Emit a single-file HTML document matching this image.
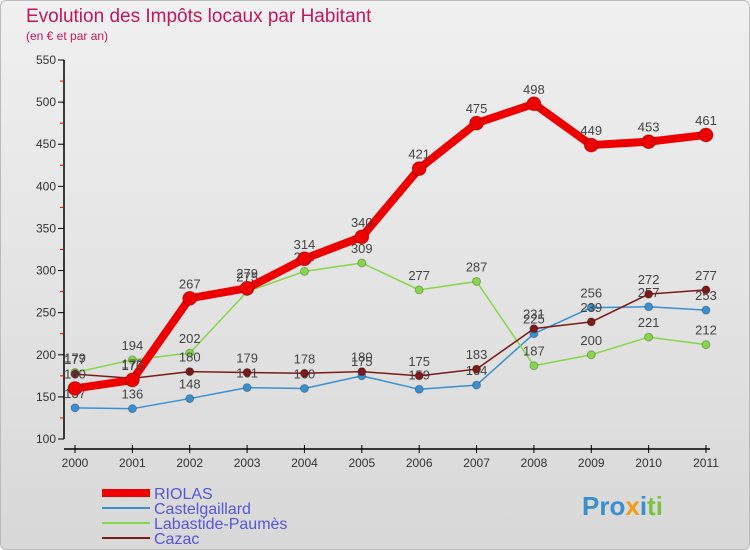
<!DOCTYPE html>
<html><head><meta charset="utf-8"><style>
body{margin:0;width:750px;height:550px;overflow:hidden;font-family:"Liberation Sans",sans-serif;}
#wrap{position:absolute;left:0;top:0;width:748px;height:548px;border:1px solid #bbb;border-radius:6px;background:linear-gradient(#f0f0f0,#d8d8d8);}
</style></head><body>
<div id="wrap">
<svg width="750" height="550" id="chart" style="position:absolute;left:-1px;top:-1px">
<text x="26" y="22" font-size="19" fill="#c2185b" font-weight="normal">Evolution des Impôts locaux par Habitant</text>
<text x="26" y="40" font-size="12" fill="#c2185b">(en € et par an)</text>
<g id="axes"></g><g id="series"></g>
<g id="legend"></g>
<text x="582" y="515" font-size="26" font-weight="bold"><tspan fill="#3a8fd0">Pro</tspan><tspan fill="#f39c12">x</tspan><tspan fill="#3a8fd0">i</tspan><tspan fill="#7cc242">ti</tspan></text>
</svg></div>
<script>
const years=[2000,2001,2002,2003,2004,2005,2006,2007,2008,2009,2010,2011];
const yTicks=[100,150,200,250,300,350,400,450,500,550];
const riolas=[160,170,267,279,314,340,421,475,498,449,453,461];
const castel=[137,136,148,161,160,175,159,164,225,256,257,253];
const labastide=[179,194,202,275,299,309,277,287,187,200,221,212];
const cazac=[177,172,180,179,178,180,175,183,231,239,272,277];
const NS="http://www.w3.org/2000/svg";
const xS=i=>75+i*(706-75)/11;
const yS=v=>439-(v-100)*(379/450);
function mk(tag,attrs,parent,txt){const e=document.createElementNS(NS,tag);for(const k in attrs)e.setAttribute(k,attrs[k]);if(txt!==undefined)e.textContent=txt;parent.appendChild(e);return e;}
const ax=document.getElementById('axes');
const yl=mk('line',{x1:64,y1:60,x2:64,y2:439,stroke:'#000','stroke-width':1.5},ax);


const xl=mk('line',{x1:64,y1:449,x2:710,y2:449,stroke:'#000','stroke-width':1.5},ax);


yTicks.forEach((t,i)=>{const y=yS(t);mk('line',{x1:58,y1:y,x2:64,y2:y,stroke:'#000'},ax);
if(i<yTicks.length-1)mk('line',{x1:60,y1:yS(t+25),x2:64,y2:yS(t+25),stroke:'#e00'},ax);
const tx=mk('text',{x:56,y:y+4,'font-size':12,'text-anchor':'end',fill:'#333'},ax,t);

});
years.forEach((yr,i)=>{const x=xS(i);mk('line',{x1:x,y1:445,x2:x,y2:453,stroke:'#000'},ax);
const tx=mk('text',{x:x,y:467,'font-size':12,'text-anchor':'middle',fill:'#333'},ax,yr);

});
const sg=document.getElementById('series');
function draw(vals,color,w,r,name){const g=mk('g',{},sg);


mk('polyline',{points:vals.map((v,i)=>xS(i)+','+yS(v)).join(' '),fill:'none',stroke:color,'stroke-width':w,'stroke-linejoin':'round'},g);
vals.forEach((v,i)=>{const c=mk('circle',{cx:xS(i),cy:yS(v),r:r,fill:color,stroke:'rgba(0,0,0,0.25)'},g);


const t=mk('text',{x:xS(i),y:yS(v)-10,'font-size':13,'text-anchor':'middle',fill:'#444'},g,v);

});}
draw(castel,'#3a8fd0',1.5,4,'castelgaillard');
draw(labastide,'#86d64a',1.5,4,'labastide');
draw(cazac,'#7a1a1a',1.5,4,'cazac');
draw(riolas,'#ee0000',8,7,'riolas');
const lg=document.getElementById('legend');
[['RIOLAS','#ee0000',8],['Castelgaillard','#3a8fd0',2],['Labastide-Paumès','#86d64a',2],['Cazac','#7a1a1a',2]].forEach((d,i)=>{const y=493+i*15;
const l=mk('line',{x1:102,y1:y,x2:150,y2:y,stroke:d[1],'stroke-width':d[2]},lg);


const t=mk('text',{x:154,y:y+6,'font-size':16,fill:'#5555dd'},lg,d[0]);

});
</script></body></html>
